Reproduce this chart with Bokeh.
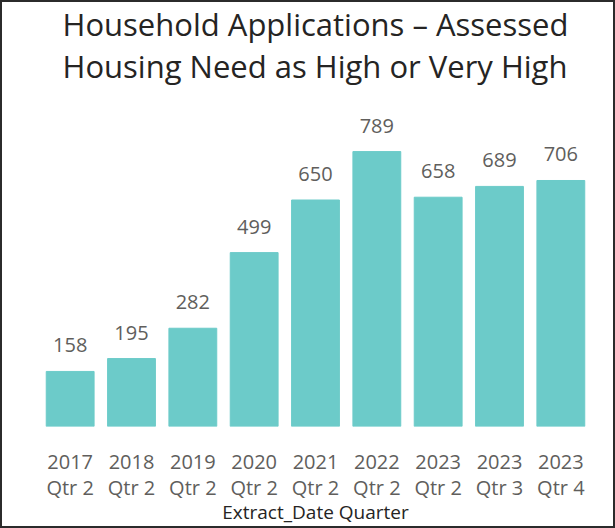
from bokeh.plotting import figure
from bokeh.models import ColumnDataSource, FactorRange, Range1d
from bokeh.core.properties import value
from bokeh.embed import file_html
from bokeh.resources import INLINE

title_text = "Household Applications \u2013 Assessed\nHousing Need as High or Very High"
years = ["2017", "2018", "2019", "2020", "2021", "2022", "2023", "2023", "2023"]
quarters = ["Qtr 2", "Qtr 2", "Qtr 2", "Qtr 2", "Qtr 2", "Qtr 2", "Qtr 2", "Qtr 3", "Qtr 4"]
counts = [158, 195, 282, 499, 650, 789, 658, 689, 706]

labels = [f"{y}\n{q}" for y, q in zip(years, quarters)]
src = ColumnDataSource(dict(x=labels, top=counts, txt=[str(c) for c in counts]))

p = figure(width=615, height=528, x_range=FactorRange(*labels, range_padding=0),
           y_range=Range1d(0, 970), output_backend="svg", toolbar_location=None,
           y_axis_location=None, min_border_left=37, min_border_right=26,
           min_border_top=0, min_border_bottom=104,
           title=title_text,
           styles={"border": "2px solid #2b2b2b"})
p.background_fill_color = "white"
p.border_fill_color = "white"
p.outline_line_color = None
p.xgrid.grid_line_color = None
p.ygrid.grid_line_color = None

p.title.align = "center"
p.title.vertical_align = "top"
p.title.text_font = "Open Sans"
p.title.text_font_size = "31px"
p.title.text_font_style = "normal"
p.title.text_color = "#252423"
p.title.text_line_height = 1.0
p.title.standoff = 0

p.vbar(x="x", top="top", width=0.78, bottom=0, source=src, color="#6CCBC9")
p.text(x="x", y="top", text="txt", source=src, text_align="center",
       text_baseline="alphabetic", y_offset=-26, text_font_size="20px",
       text_color="#605E5C", text_font=value("Open Sans"))

ax = p.xaxis[0]
ax.axis_line_color = None
ax.major_tick_line_color = None
ax.minor_tick_line_color = None
ax.major_tick_in = 0
ax.major_tick_out = 0
ax.major_label_text_font = "Open Sans"
ax.major_label_text_font_size = "20px"
ax.major_label_text_line_height = 0.98
ax.major_label_text_color = "#605E5C"
ax.major_label_standoff = 21
ax.axis_label = "Extract_Date Quarter"
ax.axis_label_text_font = "Open Sans"
ax.axis_label_text_font_style = "normal"
ax.axis_label_text_font_size = "19px"
ax.axis_label_text_line_height = 0.85
ax.axis_label_text_color = "#252423"
ax.axis_label_standoff = -5

open("out.html", "w").write(file_html(p, INLINE))
